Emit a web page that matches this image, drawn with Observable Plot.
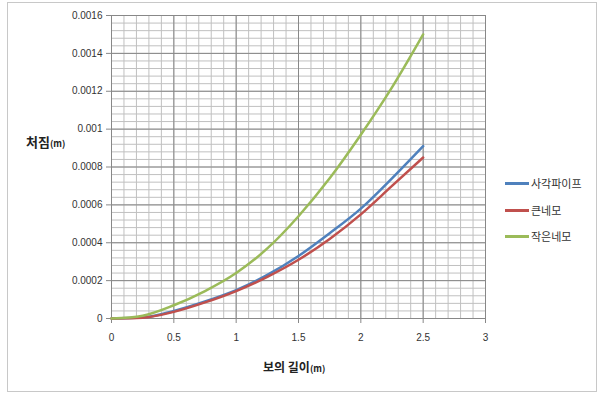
<!DOCTYPE html>
<html>
<head>
<meta charset="utf-8">
<script src="https://cdn.jsdelivr.net/npm/d3@7"></script>
<script src="https://cdn.jsdelivr.net/npm/@observablehq/plot@0.6"></script>
<style>
  html, body { margin: 0; padding: 0; background: #fff; }
  #wrap { position: relative; width: 604px; height: 398px; overflow: hidden; font-family: "Noto Sans CJK KR", "Liberation Sans", sans-serif; }
  #border { position: absolute; left: 7px; top: 2px; width: 590px; height: 390px; border: 1px solid #c8c8c8; box-sizing: border-box; }
  .ttl { position: absolute; font-weight: bold; color: #222; white-space: nowrap; }
  .ttl small { font-size: 9px; font-weight: bold; }
  #legend { position: absolute; left: 505px; top: 0; font-size: 11px; color: #333; }
  .li { position: absolute; left: 0; white-space: nowrap; display: flex; align-items: center; }
  .li span.sw { display: inline-block; width: 24px; height: 3px; margin-right: 2px; }
</style>
</head>
<body>
<div id="wrap">
  <div id="border"></div>
  <div id="chart"></div>
  <div class="ttl" style="left:26px; top:132px; font-size:13px;">처짐<small>(m)</small></div>
  <div class="ttl" style="left:263px; top:358px; font-size:12px;">보의 길이<small>(m)</small></div>
  <div id="legend"></div>
</div>
<script>
const xs = [0, 0.25, 0.5, 0.75, 1.0, 1.25, 1.5, 1.75, 2.0, 2.25, 2.5];
const pipe  = [0, 0.000005, 0.00004, 0.00009, 0.00015, 0.00023, 0.00033, 0.00045, 0.00058, 0.00074, 0.00091];
const big   = [0, 0.000004, 0.000035, 0.000085, 0.000145, 0.00022, 0.00031, 0.00042, 0.00055, 0.0007, 0.00085];
const small = [0, 0.000015, 0.00007, 0.000145, 0.00024, 0.00037, 0.00054, 0.00074, 0.00097, 0.00122, 0.0015];
const seriesNames = ["사각파이프", "큰네모", "작은네모"];
const seriesColors = ["#4F81BD", "#C0504D", "#9BBB59"];
const xTicks = [0, 0.5, 1, 1.5, 2, 2.5, 3];
const yTicks = [0, 0.0002, 0.0004, 0.0006, 0.0008, 0.001, 0.0012, 0.0014, 0.0016];

const seriesVals = [pipe, big, small];
const data = [];
seriesVals.forEach((vals, i) => vals.forEach((v, j) => data.push({x: xs[j], y: v, s: seriesNames[i]})));

const xMinor = d3.range(0, 31).map(i => i / 10);
const yMinor = d3.range(0, 41).map(i => i * 0.00004);

const plot = Plot.plot({
  width: 604,
  height: 398,
  marginLeft: 111,
  marginRight: 119,
  marginTop: 15,
  marginBottom: 80,
  style: { fontFamily: "'Liberation Sans', Arial, sans-serif", fontSize: "10px", color: "#333", background: "transparent" },
  x: { domain: [0, 3], ticks: xTicks, tickSize: 5, tickPadding: 10, label: null, tickFormat: d => String(d) },
  y: { domain: [0, 0.0016], ticks: yTicks, tickSize: 5, tickPadding: 4, label: null, tickFormat: d => String(+d.toFixed(4)) },
  color: { domain: seriesNames, range: seriesColors },
  marks: [
    Plot.ruleX(xMinor, { stroke: "#c0c0c0", strokeWidth: 1 }),
    Plot.ruleY(yMinor, { stroke: "#c0c0c0", strokeWidth: 1 }),
    Plot.ruleX(xTicks, { stroke: "#888", strokeWidth: 1 }),
    Plot.ruleY(yTicks, { stroke: "#888", strokeWidth: 1 }),
    Plot.axisX({ ticks: xTicks, tickSize: 5, tickPadding: 10, stroke: "#888", tickFormat: d => String(d) }),
    Plot.axisY({ ticks: yTicks, tickSize: 5, tickPadding: 4, stroke: "#888", tickFormat: d => String(+d.toFixed(4)) }),
    Plot.line(data, { x: "x", y: "y", z: "s", stroke: "s", strokeWidth: 2.5, curve: "monotone-x" })
  ]
});
document.getElementById("chart").appendChild(plot);

const leg = document.getElementById("legend");
const legY = [183, 210, 236];
seriesNames.forEach((n, i) => {
  const d = document.createElement("div");
  d.className = "li";
  d.style.top = (legY[i] - 8) + "px";
  d.innerHTML = `<span class="sw" style="background:${seriesColors[i]}"></span>${n}`;
  leg.appendChild(d);
});
</script>
</body>
</html>
